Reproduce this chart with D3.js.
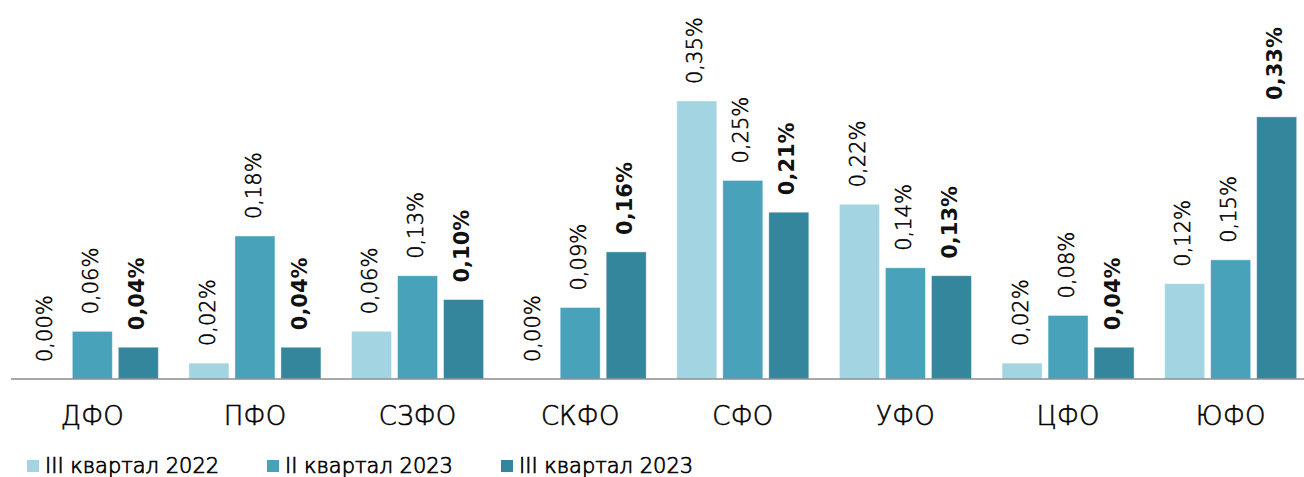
<!DOCTYPE html>
<html>
<head>
<meta charset="utf-8">
<script src="https://cdn.jsdelivr.net/npm/d3@7"></script>
<style>
  html, body { margin: 0; padding: 0; background: #fff; }
  svg { display: block; }
  text { font-family: "DejaVu Sans", sans-serif; fill: #111; }
  .thin { font-weight: 200; fill: #000; stroke: #000; stroke-width: 0.55px; }
</style>
</head>
<body>
<svg id="chart" width="1304" height="477"></svg>
<script>
// Federal districts and the three reporting periods
const categories = ["ДФО", "ПФО", "СЗФО", "СКФО", "СФО", "УФО", "ЦФО", "ЮФО"];
const seriesNames = ["III квартал 2022", "II квартал 2023", "III квартал 2023"];
const q3_2022 = [0.00, 0.02, 0.06, 0.00, 0.35, 0.22, 0.02, 0.12];
const q2_2023 = [0.06, 0.18, 0.13, 0.09, 0.25, 0.14, 0.08, 0.15];
const q3_2023 = [0.04, 0.04, 0.10, 0.16, 0.21, 0.13, 0.04, 0.33];
const seriesColors = ["#a2d5e1", "#48a2b9", "#33869c"];

const series = [q3_2022, q2_2023, q3_2023];
const svg = d3.select("#chart");

const baseY = 379;
const x0 = d3.scaleBand().domain(categories).range([11, 1312]).paddingInner(0).paddingOuter(0);
const groupW = 132;
const x1 = d3.scaleBand().domain(d3.range(3)).range([0, groupW]).paddingInner(6 / 46).paddingOuter(0);
const y = d3.scaleLinear().domain([0, 0.35]).range([baseY, 101]);

const fmt = v => v.toFixed(2).replace(".", ",") + "%";

const groups = svg.selectAll("g.cat")
  .data(categories)
  .join("g")
  .attr("class", "cat")
  .attr("transform", c => `translate(${x0(c) + (x0.bandwidth() - groupW) / 2},0)`);

// Bars
groups.selectAll("rect")
  .data((c, i) => series.map((s, k) => ({ k, v: s[i] })))
  .join("rect")
  .attr("x", d => x1(d.k))
  .attr("width", x1.bandwidth())
  .attr("y", d => y(d.v))
  .attr("height", d => baseY - y(d.v))
  .attr("fill", d => seriesColors[d.k])
  .attr("stroke", "#ffffff")
  .attr("stroke-opacity", 0.5)
  .attr("stroke-width", 0.8);

// Rotated value labels above each bar
groups.selectAll("text.val")
  .data((c, i) => series.map((s, k) => ({ k, v: s[i] })))
  .join("text")
  .attr("class", d => d.k === 2 ? "val" : "val thin")
  .attr("transform", d => `translate(${x1(d.k) + x1.bandwidth() / 2 - 2},${y(d.v) - 17}) rotate(-90)`)
  .attr("dy", "0.36em")
  .attr("text-anchor", "start")
  .style("font-size", "21px")
  .style("font-weight", d => d.k === 2 ? "bold" : null)
  .text(d => fmt(d.v));

// Baseline
svg.append("line")
  .attr("x1", 11).attr("x2", 1304)
  .attr("y1", baseY).attr("y2", baseY)
  .attr("stroke", "#8c8c8c")
  .attr("stroke-width", 1.5);

// Category labels
svg.selectAll("text.catlabel")
  .data(categories)
  .join("text")
  .attr("class", "catlabel thin")
  .attr("x", c => x0(c) + x0.bandwidth() / 2)
  .attr("y", 425)
  .attr("text-anchor", "middle")
  .style("font-size", "26px")
  .text(c => c);

// Legend
const legendX = [27, 267, 501];
const legend = svg.selectAll("g.leg")
  .data(seriesNames)
  .join("g")
  .attr("class", "leg")
  .attr("transform", (d, i) => `translate(${legendX[i]},0)`);
legend.append("rect")
  .attr("x", 0).attr("y", 460)
  .attr("width", 12).attr("height", 12)
  .attr("fill", (d, i) => seriesColors[i]);
legend.append("text")
  .attr("class", "thin")
  .attr("x", 18).attr("y", 473)
  .style("font-size", "21px")
  .style("stroke-width", "0.7px")
  .text(d => d);
</script>
</body>
</html>
